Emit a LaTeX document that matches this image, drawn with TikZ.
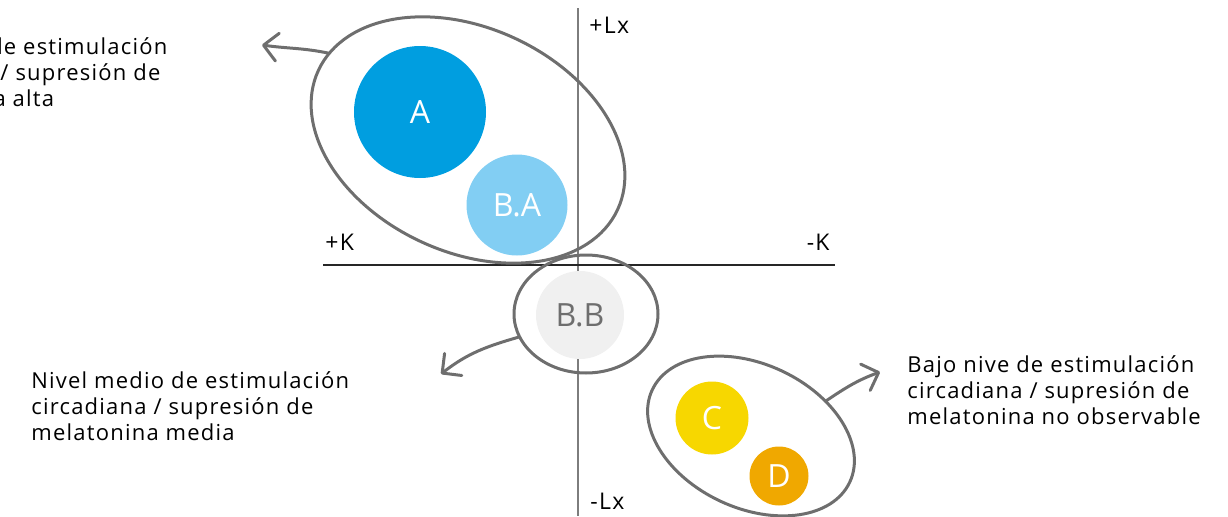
\documentclass[tikz,border=0pt]{standalone}
\usepackage{xcolor}
\usepackage{fontspec}
\setmainfont{Open Sans}
\newfontfamily\notefont[LetterSpace=5.5]{Open Sans}
\usepackage{tikz}
\usetikzlibrary{arrows.meta, shapes.geometric}
\definecolor{spotblue}{RGB}{0, 158, 224}
\definecolor{spotsky}{RGB}{130, 206, 243}
\definecolor{spotgray}{RGB}{240, 240, 240}
\definecolor{spotyellow}{RGB}{247, 215, 0}
\definecolor{spotorange}{RGB}{240, 168, 0}
\definecolor{ringgray}{RGB}{110, 110, 110}
\definecolor{axisgray}{RGB}{125, 125, 125}

\begin{document}
\begin{tikzpicture}[
    x=0.5pt, y=0.5pt, % one unit per pixel of the layout
    spot/.style={circle, inner sep=0pt, text=white, font=\fontsize{16}{19}\selectfont},
    ring/.style={ellipse, draw=ringgray, line width=1.5pt, inner sep=0pt, outer sep=0pt},
    note/.style={align=left, font=\notefont\fontsize{11}{13}\selectfont, inner sep=0pt},
    axislabel/.style={font=\notefont\fontsize{11.5}{13}\selectfont, inner sep=0pt},
    pointer/.style={draw=ringgray, line width=1.5pt, line cap=round, -{Straight Barb[length=7pt, width=14pt, round]}}
]

    % Frame of the picture
    \useasboundingbox (0,0) rectangle (1228,516);
    \clip (0,0) rectangle (1228,516);

    % Axes
    \coordinate (ax_top) at (578,508);
    \coordinate (ax_bot) at (578,0);
    \coordinate (ax_left) at (323,251);
    \coordinate (ax_right) at (835,251);
    \draw [axisgray, line width=0.8pt] (ax_top) -- (ax_bot);
    \draw [black!85, line width=0.7pt] (ax_left) -- (ax_right);

    % Axis labels
    \node (lbl_plx) [axislabel, anchor=base west] at (589,483) {+Lx};
    \node (lbl_mlx) [axislabel, anchor=base west] at (590,7) {-Lx};
    \node (lbl_pk) [axislabel, anchor=base west] at (325,266) {+K};
    \node (lbl_mk) [axislabel, anchor=base east] at (830,266) {-K};

    % Groups (circles)
    \node (c_a) [spot, fill=spotblue, minimum size=66pt] at (420,404) {A};
    \node (c_ba) [spot, fill=spotsky, minimum size=50.5pt] at (517,311) {B.A};
    \node (c_bb) [spot, fill=spotgray, text=ringgray, minimum size=44pt] at (580,201) {B.B};
    \node (c_c) [spot, fill=spotyellow, minimum size=36.5pt] at (712,98) {C};
    \node (c_d) [spot, fill=spotorange, minimum size=29.5pt] at (779,40) {D};

    % Rings round the groups
    \node (grp_high) [ring, minimum width=165pt, minimum height=112pt, rotate=-25] at (468,376) {};
    \node (grp_mid) [ring, minimum width=72pt, minimum height=59pt] at (586,202) {};
    \node (grp_low) [ring, minimum width=109pt, minimum height=72pt, rotate=-25] at (751,80) {};

    % Level notes
    \node (lbl_high) [note, anchor=base west] at (-122,410) {Alto nivel de estimulación\\circadiana / supresión de\\melatonina alta};
    \node (lbl_mid) [note, anchor=base west] at (31,76) {Nivel medio de estimulación\\circadiana / supresión de\\melatonina media};
    \node (lbl_low) [note, anchor=base west] at (907,92) {Bajo nive de estimulación\\circadiana / supresión de\\melatonina no observable};

    % Pointers from rings to notes
    \coordinate (tip_high) at (262,471);
    \coordinate (tip_mid) at (441,142);
    \coordinate (tip_low) at (880,144);
    \draw [pointer] (grp_high.173) to[out=168, in=-8] (tip_high);
    \draw [pointer] (grp_mid.199) to[out=196, in=38] (tip_mid);
    \draw [pointer] (grp_low.50) to[out=34, in=200] (tip_low);

\end{tikzpicture}
\end{document}
